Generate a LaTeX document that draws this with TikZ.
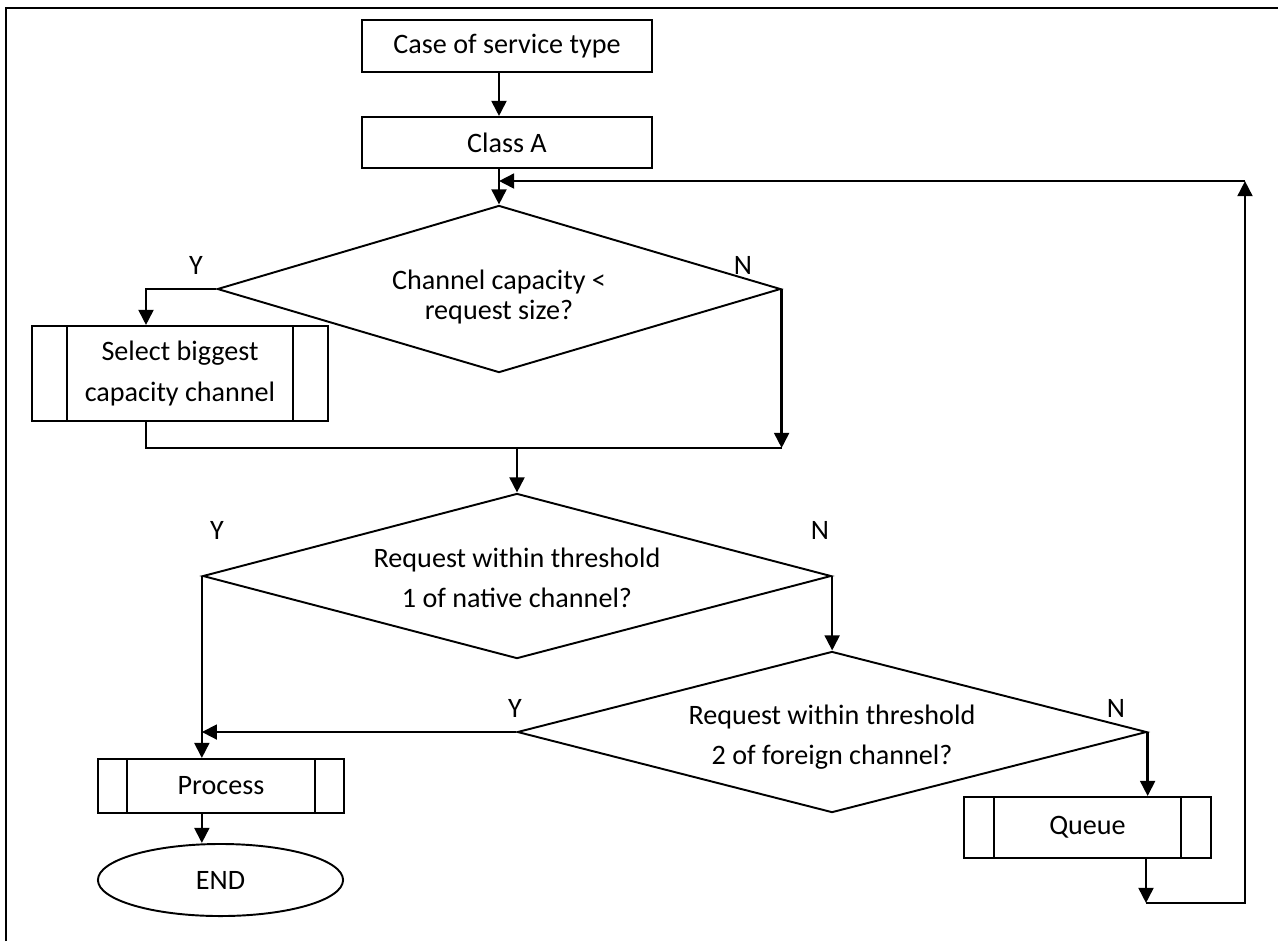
\documentclass[tikz,border=0pt]{standalone}
\usepackage{fontspec}
\setmainfont{Carlito}
\usetikzlibrary{shapes.geometric, arrows.meta}
\tikzset{
  % basis voor alle vormen
  vorm/.style={%
    draw,
    line width=0.55pt,
    align=center,
    inner sep=0pt,
    font=\fontsize{8}{11.4}\selectfont
  },
  % de losse blokken en keuzes
  blok/.style={vorm, rectangle, minimum width=2.9cm, minimum height=0.52cm},
  keuze/.style={vorm, diamond, shape aspect=3.8, minimum width=6.28cm, minimum height=1.65cm},
  subproces/.style={vorm, rectangle,
    path picture={%
      \draw[line width=0.55pt]
        ([xshift=#1]path picture bounding box.north west) -- ([xshift=#1]path picture bounding box.south west)
        ([xshift=-#1]path picture bounding box.north east) -- ([xshift=-#1]path picture bounding box.south east);
    }},
  subproces/.default=0.3cm,
  eind/.style={vorm, ellipse, minimum width=2.45cm, minimum height=0.72cm},
  % tekst in de keuzes
  vraag/.style={align=center, inner sep=0pt, font=\fontsize{8}{11.4}\selectfont},
  % Y/N bij de takken
  tak/.style={inner sep=0pt, font=\fontsize{8}{10}\selectfont},
  % lijnen en pijlen
  lijn/.style={line width=0.75pt},
  pijl/.style={lijn, -{Triangle[length=4.3pt, width=4.2pt]}},
  kader/.style={line width=0.8pt}
}

\begin{document}
\begin{tikzpicture}[x=0.01cm, y=-0.01cm]
  \useasboundingbox (0,0) rectangle (1278,941);
  \draw[kader] (6,941) -- (6,8) -- (1278,8);

  % --- de blokken ---
  \node[blok] (soort) at (507,46) {Case of service type};
  \node[blok, minimum height=0.51cm] (klasse) at (507,142.5) {Class A};
  \node[keuze, shape aspect=3.37, minimum width=5.63cm, minimum height=1.67cm] (capaciteit) at (499,289) {};
  \node[vraag, font=\fontsize{8}{8.5}\selectfont] (capaciteit-t) at (499,297) {Channel capacity <\\request size?};
  \node[subproces=0.35cm, minimum width=2.96cm, minimum height=0.95cm] (grootste) at (180,373.5) {Select biggest\\capacity channel};
  \node[keuze] (drempel1) at (517,576) {};
  \node[vraag] (drempel1-t) at (517,578) {Request within threshold\\1 of native channel?};
  \node[keuze, minimum width=6.29cm, minimum height=1.61cm] (drempel2) at (832,732) {};
  \node[vraag] (drempel2-t) at (832,737) {Request within threshold\\2 of foreign channel?};
  \node[subproces=0.29cm, minimum width=2.46cm, minimum height=0.54cm] (verwerk) at (221,786) {Process};
  \node[eind] (einde) at (220.5,880) {END};
  \node[subproces, minimum width=2.47cm, minimum height=0.61cm] (wachtrij) at (1087.5,827.5) {Queue};

  % --- Y en N ---
  \node[tak] (ja1) at (196,265) {Y};
  \node[tak] (nee1) at (743,265) {N};
  \node[tak] (ja2) at (217,530) {Y};
  \node[tak] (nee2) at (820,530) {N};
  \node[tak] (ja3) at (515,708) {Y};
  \node[tak] (nee3) at (1116,708) {N};

  % --- hulppunten ---
  \coordinate (samen) at (146,448);
  \coordinate (terug1) at (1146,903);
  \coordinate (terug2) at (1245,903);
  \coordinate (terug3) at (1245,181);

  % --- pijlen ---
  \draw[pijl] (soort.south -| capaciteit.north) -- (klasse.north -| capaciteit.north);
  \draw[pijl] (klasse.south -| capaciteit.north) -- (capaciteit.north);
  \draw[pijl] (capaciteit.west) -| (grootste.north -| samen);
  \draw[pijl] (capaciteit.east) -- (capaciteit.east |- samen);
  \draw[lijn] (grootste.south -| samen) -- (samen) -- (capaciteit.east |- samen);
  \draw[pijl] (drempel1.north |- samen) -- (drempel1.north);
  \draw[pijl] (drempel1.west) -- (drempel1.west |- verwerk.north);
  \draw[pijl] (drempel1.east) -- (drempel1.east |- drempel2.north);
  \draw[pijl] (drempel2.west) -- (drempel2.west -| drempel1.west);
  \draw[pijl] (drempel2.east) -- (drempel2.east |- wachtrij.north);
  \draw[pijl] (verwerk.south -| drempel1.west) -- (einde.north -| drempel1.west);
  \draw[pijl] (terug1 |- wachtrij.south) -- (terug1);
  \draw[pijl] (terug1) -- (terug2) -- (terug3);
  \draw[pijl] (terug3) -- (terug3 -| capaciteit.north);
\end{tikzpicture}
\end{document}
